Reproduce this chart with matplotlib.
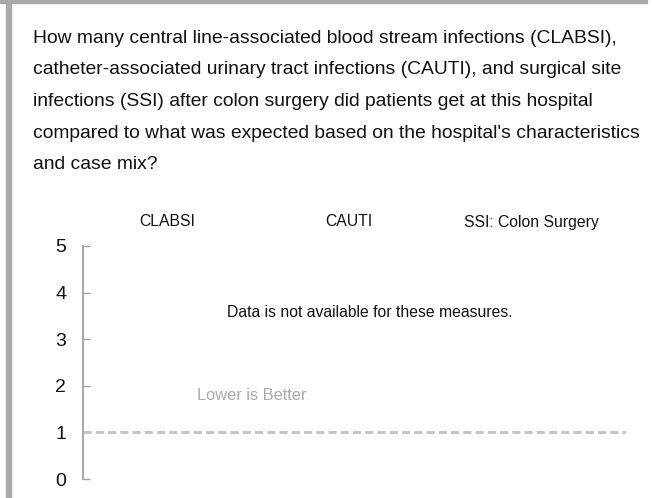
import matplotlib
matplotlib.use('Agg')
import matplotlib.pyplot as plt
from matplotlib.patches import Rectangle

plt.rcParams['font.family'] = ['Liberation Sans', 'DejaVu Sans']

question = [
    "How many central line-associated blood stream infections (CLABSI),",
    "catheter-associated urinary tract infections (CAUTI), and surgical site",
    "infections (SSI) after colon surgery did patients get at this hospital",
    "compared to what was expected based on the hospital's characteristics",
    "and case mix?",
]
measures = ['CLABSI', 'CAUTI', 'SSI: Colon Surgery']
yticks = [0, 1, 2, 3, 4, 5]
benchmark = 1
no_data_msg = 'Data is not available for these measures.'
hint = 'Lower is Better'

W, H = 655, 498
fig = plt.figure(figsize=(W / 100, H / 100), dpi=100)

def fx(px):
    return px / W

def fy(py):
    return 1 - py / H

# page frame: grey strip on top and on the left
fig.patches.append(Rectangle((0, fy(3)), fx(647), 3 / H, transform=fig.transFigure,
                             color='#a9a9a9', zorder=0))
fig.patches.append(Rectangle((fx(6), 0), fx(5), 1, transform=fig.transFigure,
                             color='#a9a9a9', zorder=0))

for i, line in enumerate(question):
    fig.text(fx(33), fy(43 + i * 31.5), line, fontsize=13.9, color='#111111',
             ha='left', va='baseline')

ax = fig.add_axes([fx(83), fy(479), fx(626 - 83), (479 - 246) / H])
ax.set_xlim(-0.46, 2.52)
ax.set_ylim(0, 5)
for s in ['top', 'right', 'bottom']:
    ax.spines[s].set_visible(False)
ax.spines['left'].set_color('#a0a0a0')
ax.spines['left'].set_linewidth(1.3)
ax.set_xticks([])
ax.set_yticks(yticks)
ax.tick_params(axis='y', direction='in', length=5, width=1, color='#a0a0a0',
               labelsize=14, labelcolor='#111111', pad=12)

ax.axhline(benchmark, color='#c4c4c4', lw=2.1, dashes=(2.8, 1.4))

px_per_unit = (479 - 246) / 5
for i, m in enumerate(measures):
    ax.text(i, 5 + 24 / px_per_unit, m, fontsize=11.3, ha='center', va='center',
            color='#111111', clip_on=False)

ax.text(0.529, 0.713, no_data_msg, transform=ax.transAxes, fontsize=11.3,
        ha='center', va='center', color='#111111')
ax.text(0.165, 1.8, hint, fontsize=11.8, ha='left', va='center', color='#aaaaaa')

fig.savefig('out.png', dpi=100)
